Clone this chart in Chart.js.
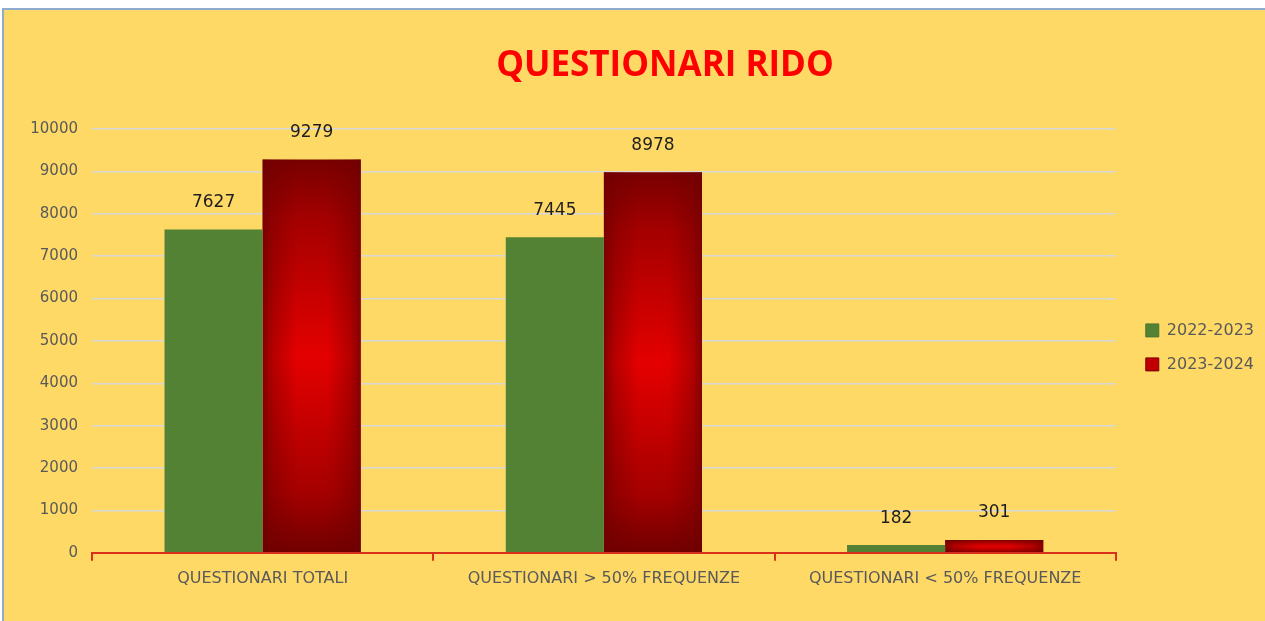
<!DOCTYPE html>
<html>
<head>
<meta charset="utf-8">
<script src="https://cdn.jsdelivr.net/npm/chart.js@4.4.1/dist/chart.umd.min.js"></script>
<style>
  html, body { margin: 0; padding: 0; background: #ffffff; width: 1265px; height: 621px; overflow: hidden; }
  #panel { position: absolute; left: 2px; top: 8px; width: 1263px; height: 613px; background: #FED966; border-top: 2px solid #8FAACF; border-left: 2px solid #8FAACF; box-sizing: border-box; }
  #wrap { position: absolute; left: 0; top: 0; width: 1265px; height: 621px; }
</style>
</head>
<body>
<div id="panel"></div>
<div id="wrap"><canvas id="c" width="1265" height="621"></canvas></div>
<script>
const chartTitle = 'QUESTIONARI RIDO';
const categories = ['QUESTIONARI TOTALI', 'QUESTIONARI > 50% FREQUENZE', 'QUESTIONARI < 50% FREQUENZE'];
const seriesNames = ['2022-2023', '2023-2024'];
const values2022 = [7627, 7445, 182];
const values2023 = [9279, 8978, 301];
const yTicks = [0, 1000, 2000, 3000, 4000, 5000, 6000, 7000, 8000, 9000, 10000];

const GREEN = '#548235';
const RED = '#C00000';
const AXIS_FONT = "'DejaVu Sans', sans-serif";

function redGradient(ctx) {
  const chart = ctx.chart;
  if (!chart.chartArea || ctx.raw === undefined) return RED;
  const y = chart.scales.y;
  const top = y.getPixelForValue(ctx.raw);
  const base = y.getPixelForValue(0);
  if (!isFinite(top) || !isFinite(base) || base - top < 1) return RED;
  const g = chart.ctx.createLinearGradient(0, top, 0, base);
  g.addColorStop(0, '#780000');
  g.addColorStop(0.15, '#a40000');
  g.addColorStop(0.5, '#e40000');
  g.addColorStop(0.85, '#a40000');
  g.addColorStop(1, '#700000');
  return g;
}

const edgeShade = {
  id: 'edgeShade',
  afterDatasetDraw(chart, args) {
    if (args.index !== 1) return;
    const c = chart.ctx;
    args.meta.data.forEach(el => {
      const left = el.x - el.width / 2, right = el.x + el.width / 2;
      const top = Math.min(el.y, el.base), bot = Math.max(el.y, el.base);
      const g = c.createLinearGradient(left, 0, right, 0);
      g.addColorStop(0, 'rgba(110,0,0,0.8)');
      g.addColorStop(0.1, 'rgba(110,0,0,0.4)');
      g.addColorStop(0.35, 'rgba(110,0,0,0)');
      g.addColorStop(0.65, 'rgba(110,0,0,0)');
      g.addColorStop(0.9, 'rgba(110,0,0,0.4)');
      g.addColorStop(1, 'rgba(110,0,0,0.8)');
      c.save();
      c.fillStyle = g;
      c.fillRect(left, top, right - left, bot - top);
      c.restore();
    });
  }
};

const valueLabels = {
  id: 'valueLabels',
  afterDatasetsDraw(chart) {
    const c = chart.ctx;
    c.save();
    c.font = "17px " + AXIS_FONT;
    c.fillStyle = '#1e1e1e';
    c.textAlign = 'center';
    c.textBaseline = 'middle';
    chart.data.datasets.forEach((ds, di) => {
      const meta = chart.getDatasetMeta(di);
      meta.data.forEach((el, i) => {
        c.fillText(String(ds.data[i]), el.x, el.y - 27);
      });
    });
    c.restore();
  }
};

// let the y-axis labels extend left of the narrow axis box (avoid clipping)
const yLabelRoom = {
  id: 'yLabelRoom',
  afterLayout(chart) { chart.scales.y.left = 0; }
};

new Chart(document.getElementById('c'), {
  type: 'bar',
  data: {
    labels: categories,
    datasets: [
      { label: seriesNames[0], data: values2022, backgroundColor: GREEN, borderWidth: 0 },
      { label: seriesNames[1], data: values2023, backgroundColor: redGradient, borderWidth: 0 }
    ]
  },
  options: {
    responsive: false,
    animation: false,
    events: [],
    layout: { padding: { top: 10, left: 66, right: 1, bottom: 25 } },
    datasets: { bar: { categoryPercentage: 0.575, barPercentage: 1.0 } },
    scales: {
      x: {
        offset: true,
        grid: { display: true, drawOnChartArea: false, drawTicks: true, tickLength: 8, color: '#D9301E', lineWidth: 2, offset: true },
        border: { display: true, color: '#D9301E', width: 2 },
        ticks: { color: '#595959', font: { family: AXIS_FONT, size: 16 }, padding: 8, maxRotation: 0 }
      },
      y: {
        min: 0, max: 10000,
        afterBuildTicks(scale) { scale.ticks = yTicks.map(v => ({ value: v })); },
        afterFit(scale) { scale.width = 26; },
        grid: { color: '#D9D9D9', lineWidth: 1.5, drawTicks: false },
        border: { display: false },
        ticks: { color: '#595959', font: { family: AXIS_FONT, size: 15 }, padding: 14, callback: (v) => String(v) }
      },
      ySpacer: {
        position: 'right',
        display: true,
        afterFit(scale) { scale.width = 12; },
        grid: { drawOnChartArea: false, drawTicks: false },
        border: { display: false },
        ticks: { display: false }
      }
    },
    plugins: {
      title: {
        display: true,
        text: chartTitle,
        color: '#FF0000',
        font: { family: "'Open Sans', sans-serif", size: 35, weight: 'bold' },
        padding: { top: 35, bottom: 42 }
      },
      legend: {
        display: true,
        position: 'right',
        fullSize: false,
        title: { display: true, text: '', font: { size: 10 }, padding: { top: 0, bottom: 1 } },
        labels: {
          color: '#595959',
          font: { family: AXIS_FONT, size: 16 },
          boxWidth: 13, boxHeight: 13, padding: 18,
          generateLabels(chart) {
            const items = Chart.defaults.plugins.legend.labels.generateLabels(chart);
            const fills = [GREEN, RED];
            const strokes = ['#4a7530', '#7a0000'];
            items.forEach((it, i) => { it.fillStyle = fills[i]; it.strokeStyle = strokes[i]; it.lineWidth = 1; });
            return items;
          }
        }
      },
      tooltip: { enabled: false }
    }
  },
  plugins: [edgeShade, valueLabels, yLabelRoom]
});
</script>
</body>
</html>
